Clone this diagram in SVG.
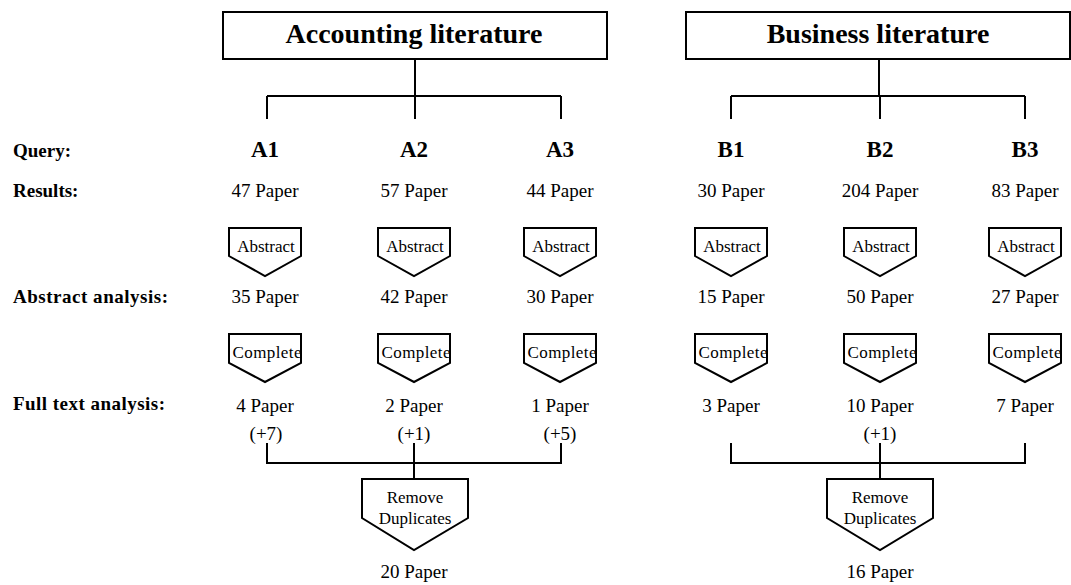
<svg xmlns="http://www.w3.org/2000/svg" width="1071" height="585" viewBox="0 0 1071 585">
  <style>
    .hdr { font-family: "Liberation Serif", "Times New Roman", serif; font-weight: bold; font-size: 28px; text-anchor: middle; }
    .q { font-family: "Liberation Serif", "Times New Roman", serif; font-weight: bold; font-size: 23px; text-anchor: middle; }
    .lbl { font-family: "Liberation Serif", "Times New Roman", serif; font-weight: bold; font-size: 19px; }
    .num { font-family: "Liberation Serif", "Times New Roman", serif; font-size: 19px; text-anchor: middle; }
    .step { font-family: "Liberation Serif", "Times New Roman", serif; font-size: 17px; text-anchor: middle; }
    .box { fill: #fff; stroke: #000; stroke-width: 2; }
    .ln { fill: none; stroke: #000; stroke-width: 2; }
  </style>
  <rect width="1071" height="585" fill="#fff"/>

  <!-- connectors -->
  <g id="connectors" class="ln">
    <path d="M415 59 V96 M267 96 H561 M267 96 V119 M415 96 V119 M561 96 V119"/>
    <path d="M879 59 V96 M731 96 H1025 M731 96 V119 M880 96 V119 M1025 96 V119"/>
    <path d="M267 443 V463 H561 V443 M414 443 V479"/>
    <path d="M731 443 V463 H1025 V443 M880 443 V479"/>
  </g>

  <!-- source groups -->
  <g id="accounting">
    <rect class="box" x="223" y="12" width="384" height="47"/>
    <text class="hdr" x="414" y="43">Accounting literature</text>
  </g>
  <g id="business">
    <rect class="box" x="686" y="12" width="384" height="47"/>
    <text class="hdr" x="878" y="43">Business literature</text>
  </g>

  <!-- row labels -->
  <g id="row-labels">
    <text class="lbl" x="13" y="157" font-size="23">Query:</text>
    <text class="lbl" x="13" y="197">Results:</text>
    <text class="lbl" x="13" y="303" textLength="155">Abstract analysis:</text>
    <text class="lbl" x="13" y="410" textLength="152">Full text analysis:</text>
  </g>

  <!-- query columns -->
  <g id="A1">
    <text class="q" x="265" y="157">A1</text>
    <text class="num" x="265" y="197">47 Paper</text>
    <path class="box" d="M229 228 H301 V256 L265 276 L229 256 Z"/>
    <text class="step" x="266" y="252">Abstract</text>
    <text class="num" x="265" y="303">35 Paper</text>
    <path class="box" d="M229 334 H301 V363 L265 382 L229 363 Z"/>
    <text class="step" x="267" y="358" textLength="69">Complete</text>
    <text class="num" x="265" y="412">4 Paper</text>
    <text class="num" x="266" y="440">(+7)</text>
  </g>
  <g id="A2">
    <text class="q" x="414" y="157">A2</text>
    <text class="num" x="414" y="197">57 Paper</text>
    <path class="box" d="M378 228 H450 V256 L414 276 L378 256 Z"/>
    <text class="step" x="415" y="252">Abstract</text>
    <text class="num" x="414" y="303">42 Paper</text>
    <path class="box" d="M378 334 H450 V363 L414 382 L378 363 Z"/>
    <text class="step" x="416" y="358" textLength="69">Complete</text>
    <text class="num" x="414" y="412">2 Paper</text>
    <text class="num" x="414" y="440">(+1)</text>
  </g>
  <g id="A3">
    <text class="q" x="560" y="157">A3</text>
    <text class="num" x="560" y="197">44 Paper</text>
    <path class="box" d="M524 228 H596 V256 L560 276 L524 256 Z"/>
    <text class="step" x="561" y="252">Abstract</text>
    <text class="num" x="560" y="303">30 Paper</text>
    <path class="box" d="M524 334 H596 V363 L560 382 L524 363 Z"/>
    <text class="step" x="562" y="358" textLength="69">Complete</text>
    <text class="num" x="560" y="412">1 Paper</text>
    <text class="num" x="560" y="440">(+5)</text>
  </g>
  <g id="B1">
    <text class="q" x="731" y="157">B1</text>
    <text class="num" x="731" y="197">30 Paper</text>
    <path class="box" d="M695 228 H767 V256 L731 276 L695 256 Z"/>
    <text class="step" x="732" y="252">Abstract</text>
    <text class="num" x="731" y="303">15 Paper</text>
    <path class="box" d="M695 334 H767 V363 L731 382 L695 363 Z"/>
    <text class="step" x="733" y="358" textLength="69">Complete</text>
    <text class="num" x="731" y="412">3 Paper</text>
  </g>
  <g id="B2">
    <text class="q" x="880" y="157">B2</text>
    <text class="num" x="880" y="197">204 Paper</text>
    <path class="box" d="M844 228 H916 V256 L880 276 L844 256 Z"/>
    <text class="step" x="881" y="252">Abstract</text>
    <text class="num" x="880" y="303">50 Paper</text>
    <path class="box" d="M844 334 H916 V363 L880 382 L844 363 Z"/>
    <text class="step" x="882" y="358" textLength="69">Complete</text>
    <text class="num" x="880" y="412">10 Paper</text>
    <text class="num" x="880" y="440">(+1)</text>
  </g>
  <g id="B3">
    <text class="q" x="1025" y="157">B3</text>
    <text class="num" x="1025" y="197">83 Paper</text>
    <path class="box" d="M989 228 H1061 V256 L1025 276 L989 256 Z"/>
    <text class="step" x="1026" y="252">Abstract</text>
    <text class="num" x="1025" y="303">27 Paper</text>
    <path class="box" d="M989 334 H1061 V363 L1025 382 L989 363 Z"/>
    <text class="step" x="1027" y="358" textLength="69">Complete</text>
    <text class="num" x="1025" y="412">7 Paper</text>
  </g>

  <!-- merge steps -->
  <g id="merge-A">
    <path class="box" d="M362 479 H468 V518 L414 550 L362 518 Z"/>
    <text class="step" x="415" y="503">Remove</text>
    <text class="step" x="415" y="524">Duplicates</text>
    <text class="num" x="414" y="578">20 Paper</text>
  </g>
  <g id="merge-B">
    <path class="box" d="M827 479 H933 V518 L880 550 L827 518 Z"/>
    <text class="step" x="880" y="503">Remove</text>
    <text class="step" x="880" y="524">Duplicates</text>
    <text class="num" x="880" y="578">16 Paper</text>
  </g>
</svg>
